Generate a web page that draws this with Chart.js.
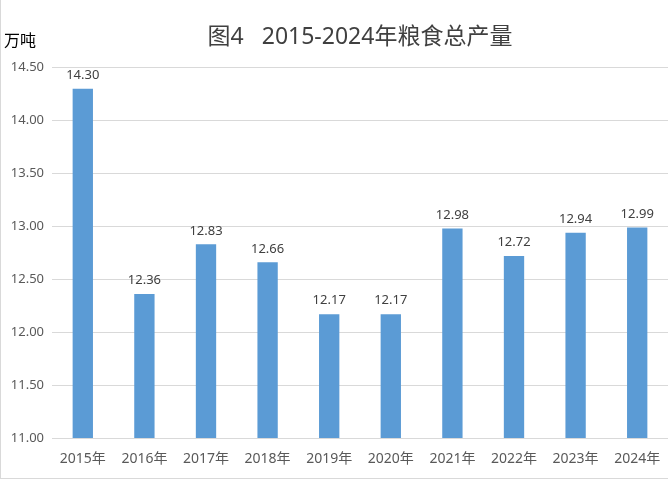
<!DOCTYPE html>
<html>
<head>
<meta charset="utf-8">
<script src="https://cdn.jsdelivr.net/npm/chart.js@4/dist/chart.umd.min.js"></script>
<style>
  body { margin: 0; background: #fff; }
  #wrap { width: 668px; height: 480px; }
</style>
</head>
<body>
<div id="wrap"><canvas id="grain" width="668" height="480"></canvas></div>
<script>
// Years and total grain output (10k tonnes)
var years = ["2015年", "2016年", "2017年", "2018年", "2019年", "2020年", "2021年", "2022年", "2023年", "2024年"];
var output = [14.30, 12.36, 12.83, 12.66, 12.17, 12.17, 12.98, 12.72, 12.94, 12.99];
var yMin = 11.00, yMax = 14.50, yStep = 0.50;

var fontFamily = "'Noto Sans', 'Noto Sans CJK SC', sans-serif";

// Border, unit label and value labels
var extras = {
  id: "extras",
  beforeDraw: function (chart) {
    var ctx = chart.ctx;
    ctx.save();
    ctx.fillStyle = "#fff";
    ctx.fillRect(0, 0, chart.width, chart.height);
    ctx.strokeStyle = "#d9d9d9";
    ctx.lineWidth = 1;
    ctx.strokeRect(0.5, -1, chart.width + 1, 479.5);
    ctx.restore();
  },
  afterDatasetsDraw: function (chart) {
    var ctx = chart.ctx;
    ctx.save();
    ctx.font = "13px " + fontFamily;
    ctx.fillStyle = "#404040";
    ctx.textAlign = "center";
    ctx.textBaseline = "bottom";
    chart.getDatasetMeta(0).data.forEach(function (bar, i) {
      ctx.fillText(output[i].toFixed(2), bar.x, bar.y - 7);
    });
    ctx.font = "16px " + fontFamily;
    ctx.fillStyle = "#000";
    ctx.textAlign = "left";
    ctx.textBaseline = "middle";
    ctx.fillText("万吨", 4, 41);
    ctx.restore();
  }
};

new Chart(document.getElementById("grain"), {
  type: "bar",
  data: {
    labels: years,
    datasets: [{
      data: output,
      backgroundColor: "#5b9bd5",
      barPercentage: 0.33,
      categoryPercentage: 1.0
    }]
  },
  options: {
    responsive: false,
    animation: false,
    layout: { padding: { top: 0, right: 0, bottom: 0, left: 0 } },
    plugins: {
      legend: { display: false },
      tooltip: { enabled: false },
      title: {
        display: true,
        fullSize: false,
        text: "图4   2015-2024年粮食总产量",
        color: "#404040",
        font: { family: fontFamily, size: 23, weight: "normal", lineHeight: 1.2 },
        padding: { top: 24, bottom: 16 }
      }
    },
    scales: {
      x: {
        grid: { display: false },
        border: { color: "#d9d9d9" },
        ticks: { color: "#595959", font: { family: fontFamily, size: 14 }, padding: 5, maxRotation: 0 },
        afterFit: function (scale) { scale.height = 42; }
      },
      y: {
        min: yMin,
        max: yMax,
        grid: { color: "#d9d9d9", drawTicks: false },
        border: { display: false },
        ticks: {
          stepSize: yStep,
          color: "#595959",
          font: { family: fontFamily, size: 13 },
          padding: 8,
          callback: function (v) { return v.toFixed(2); }
        },
        afterFit: function (scale) { scale.width = 52; }
      }
    }
  },
  plugins: [extras]
});
</script>
</body>
</html>
